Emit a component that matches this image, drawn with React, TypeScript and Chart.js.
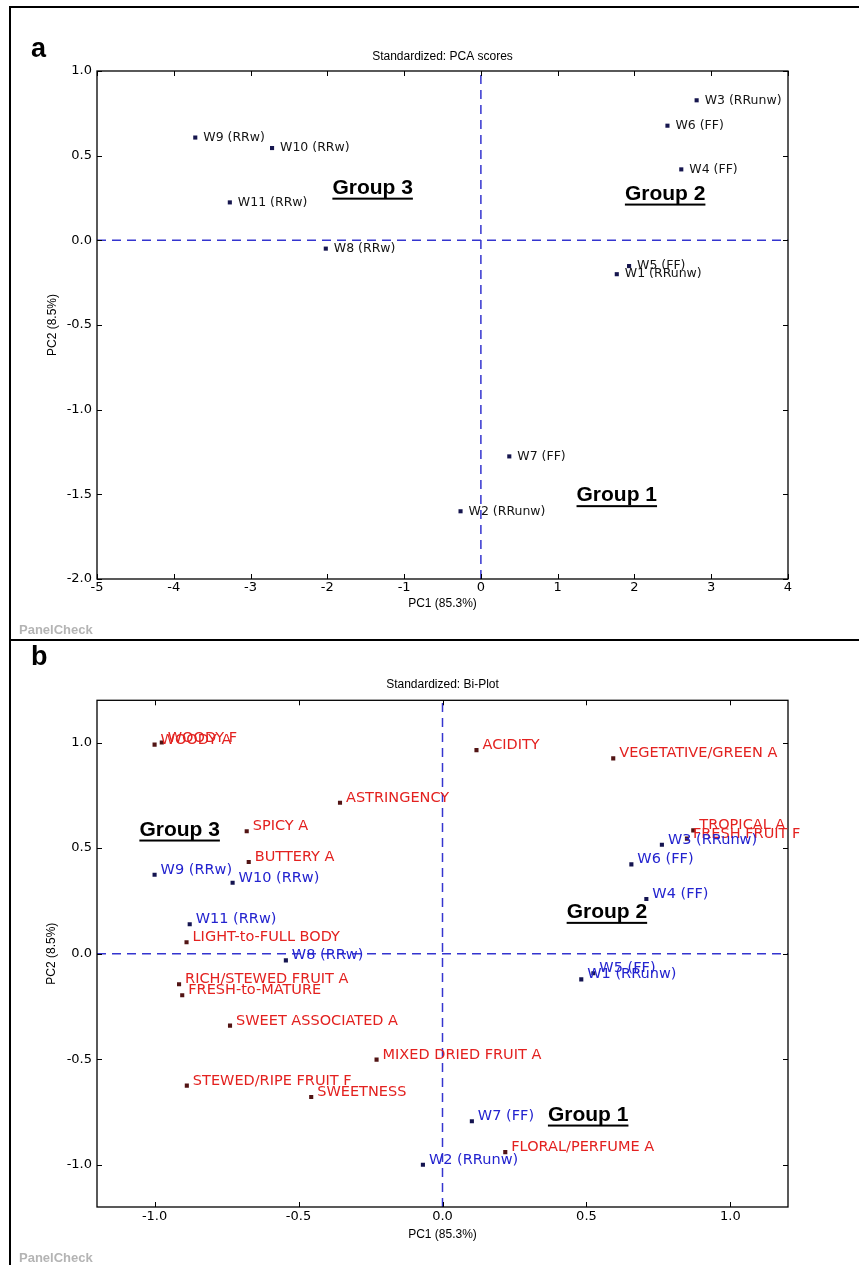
import React, { useEffect, useRef } from 'react';
import { Chart, registerables } from 'chart.js';

Chart.register(...registerables);

// ---------- Data ----------
const wineLabels = ['W1 (RRunw)', 'W2 (RRunw)', 'W3 (RRunw)', 'W4 (FF)', 'W5 (FF)', 'W6 (FF)', 'W7 (FF)', 'W8 (RRw)', 'W9 (RRw)', 'W10 (RRw)', 'W11 (RRw)'];

// Panel a: PCA scores
const scoreX = [1.77, -0.265, 2.81, 2.61, 1.93, 2.43, 0.37, -2.02, -3.72, -2.72, -3.27];
const scoreY = [-0.2, -1.6, 0.827, 0.419, -0.152, 0.677, -1.276, -0.049, 0.607, 0.545, 0.224];

// Panel b: Bi-plot (wines)
const biWineX = [0.482, -0.068, 0.762, 0.708, 0.524, 0.656, 0.102, -0.544, -1.0, -0.729, -0.878];
const biWineY = [-0.122, -1.0, 0.516, 0.259, -0.093, 0.423, -0.794, -0.032, 0.374, 0.336, 0.139];

// Panel b: Bi-plot (attributes)
const attrLabels = ['WOODY A', 'WOODY F', 'ACIDITY', 'VEGETATIVE/GREEN A', 'ASTRINGENCY', 'SPICY A', 'TROPICAL A', 'FRESH FRUIT F', 'BUTTERY A', 'LIGHT-to-FULL BODY', 'RICH/STEWED FRUIT A', 'FRESH-to-MATURE', 'SWEET ASSOCIATED A', 'MIXED DRIED FRUIT A', 'STEWED/RIPE FRUIT F', 'SWEETNESS', 'FLORAL/PERFUME A'];
const attrX = [-1.0, -0.975, 0.118, 0.593, -0.356, -0.68, 0.871, 0.849, -0.673, -0.889, -0.915, -0.904, -0.738, -0.229, -0.888, -0.456, 0.218];
const attrY = [0.99, 1.0, 0.964, 0.925, 0.715, 0.58, 0.584, 0.545, 0.434, 0.054, -0.145, -0.197, -0.341, -0.502, -0.625, -0.679, -0.94];

// Axis ranges and ticks
const scoreXRange = [-5, 4];
const scoreYRange = [-2, 1];
const scoreXTicks = [-5, -4, -3, -2, -1, 0, 1, 2, 3, 4];
const scoreXTickLabels = ['-5', '-4', '-3', '-2', '-1', '0', '1', '2', '3', '4'];
const scoreYTicks = [-2, -1.5, -1, -0.5, 0, 0.5, 1];
const scoreYTickLabels = ['-2.0', '-1.5', '-1.0', '-0.5', '0.0', '0.5', '1.0'];

const biRange = [-1.2, 1.2];
const biTicks = [-1, -0.5, 0, 0.5, 1];
const biTickLabels = ['-1.0', '-0.5', '0.0', '0.5', '1.0'];

// Group annotations (data coordinates)
const scoreGroupText = ['Group 3', 'Group 2', 'Group 1'];
const scoreGroupX = [-1.41, 2.4, 1.77];
const scoreGroupY = [0.32, 0.285, -1.496];
const biGroupText = ['Group 3', 'Group 2', 'Group 1'];
const biGroupX = [-0.913, 0.571, 0.506];
const biGroupY = [0.595, 0.205, -0.755];

// ---------- Styling ----------
const SANS = '"Liberation Sans", Arial, sans-serif';
const DEJAVU = '"DejaVu Sans", sans-serif';
const DASH_COLOR = '#3535cf';

const decorPlugin = {
  id: 'decor',
  afterDatasetsDraw(chart: any, _args: any, opts: any) {
    const ctx = chart.ctx;
    const { left, right, top, bottom } = chart.chartArea;
    const xs = chart.scales.x;
    const ys = chart.scales.y;
    ctx.save();
    // frame of axes
    ctx.strokeStyle = '#000';
    ctx.lineWidth = 1.3;
    ctx.strokeRect(left, top, right - left, bottom - top);
    // inward ticks on all four sides
    ctx.lineWidth = 1;
    ctx.beginPath();
    for (const t of xs.ticks) {
      const px = Math.round(xs.getPixelForValue(t.value)) + 0.5;
      ctx.moveTo(px, bottom);
      ctx.lineTo(px, bottom - 5);
      ctx.moveTo(px, top);
      ctx.lineTo(px, top + 5);
    }
    for (const t of ys.ticks) {
      const py = Math.round(ys.getPixelForValue(t.value)) + 0.5;
      ctx.moveTo(left, py);
      ctx.lineTo(left + 5, py);
      ctx.moveTo(right, py);
      ctx.lineTo(right - 5, py);
    }
    ctx.stroke();

    // point labels
    for (const lab of opts.labels || []) {
      const meta = chart.getDatasetMeta(lab.dataset);
      ctx.font = lab.font;
      ctx.fillStyle = lab.color;
      ctx.textAlign = 'left';
      ctx.textBaseline = lab.baseline;
      meta.data.forEach((pt: any, i: number) => {
        ctx.fillText(lab.texts[i], pt.x + lab.dx, pt.y + lab.dy);
      });
    }

    // group annotations
    const g = opts.groups;
    if (g) {
      ctx.font = 'bold 21px ' + SANS;
      ctx.fillStyle = '#000';
      ctx.textAlign = 'center';
      ctx.textBaseline = 'alphabetic';
      g.text.forEach((txt: string, i: number) => {
        const px = xs.getPixelForValue(g.x[i]);
        const py = ys.getPixelForValue(g.y[i]);
        const base = py + 7.5;
        ctx.fillText(txt, px, base);
        const w = ctx.measureText(txt).width;
        ctx.fillRect(px - w / 2, base + 4, w, 2);
      });
    }

    // panel letter
    ctx.font = 'bold 27px ' + SANS;
    ctx.fillStyle = '#000';
    ctx.textAlign = 'left';
    ctx.textBaseline = 'alphabetic';
    ctx.fillText(opts.letter, opts.letterX, opts.letterY);

    // watermark
    ctx.font = 'bold 13px ' + SANS;
    ctx.fillStyle = '#b4b4b4';
    ctx.textBaseline = 'middle';
    ctx.fillText('PanelCheck', 19, opts.markY);
    ctx.restore();
  },
};

function pts(xs: number[], ys: number[]) {
  return xs.map((x, i) => ({ x, y: ys[i] }));
}

function makeConfig(p: any) {
  return {
    type: 'scatter',
    data: {
      datasets: [
        {
          type: 'line',
          data: [{ x: p.xr[0], y: 0 }, { x: p.xr[1], y: 0 }],
          borderColor: DASH_COLOR,
          borderWidth: 1.5,
          borderDash: [9, 6],
          pointRadius: 0,
          showLine: true,
          order: 5,
        },
        {
          type: 'line',
          data: [{ x: 0, y: p.yr[0] }, { x: 0, y: p.yr[1] }],
          borderColor: DASH_COLOR,
          borderWidth: 1.5,
          borderDash: [9, 6],
          pointRadius: 0,
          showLine: true,
          order: 5,
        },
        ...p.pointSets.map((s: any) => ({
          data: s.data,
          pointStyle: 'rect',
          pointRadius: 2.9,
          pointBorderWidth: 0,
          backgroundColor: s.color,
          borderColor: s.color,
          order: 1,
        })),
      ],
    },
    options: {
      animation: false,
      responsive: false,
      events: [],
      layout: { padding: { left: 0, right: 71, top: 0, bottom: 0 } },
      plugins: {
        legend: { display: false },
        tooltip: { enabled: false },
        title: {
          display: true,
          text: p.title,
          fullSize: false,
          color: '#000',
          font: { family: SANS, size: 12, weight: 'normal', lineHeight: 1.2 },
          padding: { top: p.titleTop, bottom: p.titleBottom },
        },
        decor: {
          labels: p.labels,
          groups: p.groups,
          letter: p.letter,
          letterX: 31,
          letterY: p.letterY,
          markY: p.markY,
        },
      },
      scales: {
        x: {
          type: 'linear',
          min: p.xr[0],
          max: p.xr[1],
          afterBuildTicks: (sc: any) => {
            sc.ticks = p.xt.map((v: number) => ({ value: v }));
          },
          afterFit: (sc: any) => {
            sc.height = p.xAxisH;
          },
          grid: { display: false, drawTicks: false },
          border: { display: false },
          ticks: {
            autoSkip: false,
            maxRotation: 0,
            padding: p.xTickPad,
            color: '#000',
            font: { family: DEJAVU, size: 13 },
            callback: (v: number) => p.xl[p.xt.indexOf(v)] ?? '',
          },
          title: {
            display: true,
            text: 'PC1 (85.3%)',
            color: '#000',
            font: { family: SANS, size: 12, lineHeight: 1.2 },
            padding: { top: 0, bottom: p.xTitlePad },
          },
        },
        y: {
          type: 'linear',
          min: p.yr[0],
          max: p.yr[1],
          afterBuildTicks: (sc: any) => {
            sc.ticks = p.yt.map((v: number) => ({ value: v }));
          },
          afterFit: (sc: any) => {
            sc.width = 97;
          },
          grid: { display: false, drawTicks: false },
          border: { display: false },
          ticks: {
            autoSkip: false,
            padding: 5,
            color: '#000',
            font: { family: DEJAVU, size: 13 },
            callback: (v: number) => p.yl[p.yt.indexOf(v)] ?? '',
          },
          title: {
            display: true,
            text: 'PC2 (8.5%)',
            color: '#000',
            font: { family: SANS, size: 12, lineHeight: 1.2 },
            padding: { top: p.yTitlePad, bottom: 0 },
          },
        },
      },
    },
    plugins: [decorPlugin],
  };
}

const configA = () =>
  makeConfig({
    title: 'Standardized: PCA scores',
    titleTop: 49.8,
    titleBottom: 6.8,
    xr: scoreXRange,
    yr: scoreYRange,
    xt: scoreXTicks,
    xl: scoreXTickLabels,
    yt: scoreYTicks,
    yl: scoreYTickLabels,
    xAxisH: 61,
    xTickPad: 1,
    xTitlePad: 28.8,
    yTitlePad: 45.8,
    letter: 'a',
    letterY: 57,
    markY: 630,
    pointSets: [{ data: pts(scoreX, scoreY), color: '#16164e' }],
    labels: [
      { dataset: 2, texts: wineLabels, color: '#141414', font: '12.5px ' + DEJAVU, dx: 8, dy: 0, baseline: 'middle' },
    ],
    groups: { text: scoreGroupText, x: scoreGroupX, y: scoreGroupY },
  });

const configB = () =>
  makeConfig({
    title: 'Standardized: Bi-Plot',
    titleTop: 37.8,
    titleBottom: 8.1,
    xr: biRange,
    yr: biRange,
    xt: biTicks,
    xl: biTickLabels,
    yt: biTicks,
    yl: biTickLabels,
    xAxisH: 58,
    xTickPad: 2,
    xTitlePad: 22.8,
    yTitlePad: 44.8,
    letter: 'b',
    letterY: 25,
    markY: 618,
    pointSets: [
      { data: pts(attrX, attrY), color: '#521414' },
      { data: pts(biWineX, biWineY), color: '#141450' },
    ],
    labels: [
      { dataset: 2, texts: attrLabels, color: '#e3211f', font: '14.5px ' + DEJAVU, dx: 6, dy: -1, baseline: 'alphabetic' },
      { dataset: 3, texts: wineLabels, color: '#2323cf', font: '14.5px ' + DEJAVU, dx: 6, dy: -1, baseline: 'alphabetic' },
    ],
    groups: { text: biGroupText, x: biGroupX, y: biGroupY },
  });

function ChartCanvas({ make, width, height, top }: { make: () => any; width: number; height: number; top: number }) {
  const ref = useRef<HTMLCanvasElement | null>(null);
  useEffect(() => {
    if (!ref.current) return;
    const chart = new Chart(ref.current, make());
    return () => chart.destroy();
  }, [make]);
  return (
    <canvas
      ref={ref}
      width={width}
      height={height}
      style={{ position: 'absolute', left: 0, top, width, height, display: 'block' }}
    />
  );
}

export default function App() {
  return (
    <div style={{ position: 'absolute', left: 0, top: 0, width: 859, height: 1265, background: '#fff', overflow: 'hidden' }}>
      <ChartCanvas make={configA} width={859} height={640} top={0} />
      <ChartCanvas make={configB} width={859} height={625} top={640} />
      <div style={{ position: 'absolute', left: 9, top: 6, width: 850, height: 2, background: '#000' }} />
      <div style={{ position: 'absolute', left: 9, top: 6, width: 2, height: 1259, background: '#000' }} />
      <div style={{ position: 'absolute', left: 9, top: 639, width: 850, height: 2, background: '#000' }} />
    </div>
  );
}
